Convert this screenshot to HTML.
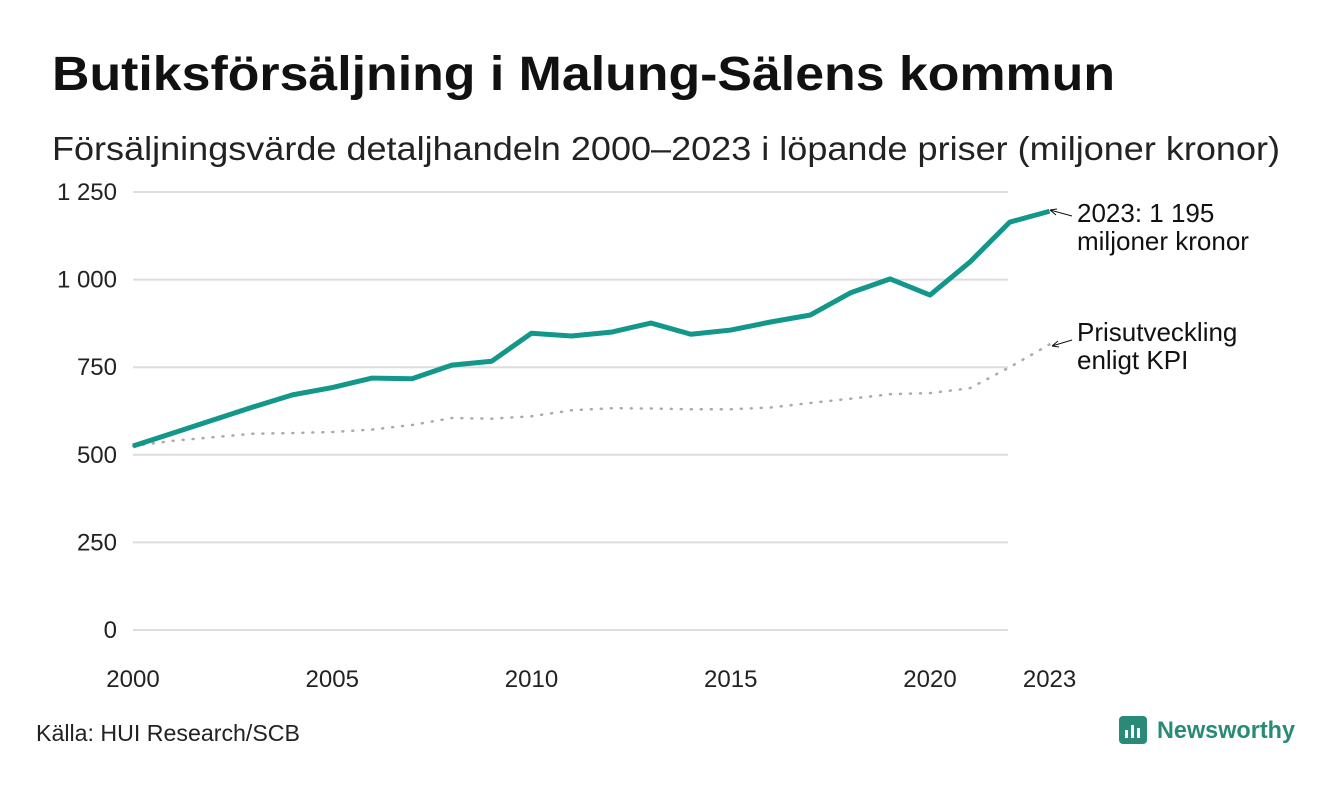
<!DOCTYPE html>
<html><head><meta charset="utf-8">
<style>
body{margin:0;background:#fff;width:1340px;height:780px;overflow:hidden;font-family:"Liberation Sans",sans-serif;}
</style></head>
<body>
<svg width="1340" height="780">
<text x="52" y="90" font-size="48" font-weight="bold" fill="#111" textLength="1063" lengthAdjust="spacingAndGlyphs">Butiksförsäljning i Malung-Sälens kommun</text>
<text x="52" y="160" font-size="33" fill="#222" textLength="1228" lengthAdjust="spacingAndGlyphs">Försäljningsvärde detaljhandeln 2000–2023 i löpande priser (miljoner kronor)</text>
<g id="grid"></g>
<g id="xt"></g>
<g id="marks"></g>
<g>
<text x="1077" y="222" font-size="26" fill="#111">2023: 1 195</text>
<text x="1077" y="250" font-size="26" fill="#111">miljoner kronor</text>
<path d="M1072 216 L1050 210 M1050 210 l6 5 M1050 210 l7 -1" stroke="#111" stroke-width="1" fill="none"/>
</g>
<g>
<text x="1077" y="341" font-size="26" fill="#111">Prisutveckling</text>
<text x="1077" y="369" font-size="26" fill="#111">enligt KPI</text>
<path d="M1072 340 L1052 346 M1052 346 l7 1 M1052 346 l6 -5" stroke="#111" stroke-width="1" fill="none"/>
</g>
<text x="36" y="741" font-size="23" fill="#222" textLength="264" lengthAdjust="spacingAndGlyphs">Källa: HUI Research/SCB</text>
<g>
<rect x="1119" y="716" width="28" height="28" rx="4" fill="#2a8a78"/>
<rect x="1125" y="730" width="3" height="8" fill="#fff"/><rect x="1131" y="725" width="3" height="13" fill="#fff"/><rect x="1137" y="728" width="3" height="10" fill="#fff"/>
<text x="1157" y="738" font-size="24" font-weight="bold" fill="#2a8a78" textLength="138" lengthAdjust="spacingAndGlyphs">Newsworthy</text>
</g>
</svg>
<script>
const years=[2000,2001,2002,2003,2004,2005,2006,2007,2008,2009,2010,2011,2012,2013,2014,2015,2016,2017,2018,2019,2020,2021,2022,2023];
const sales=[525,562,599,636,671,692,719,717,756,767,847,839,850,876,844,856,879,899,962,1002,956,1050,1164,1195];
const kpi=[525,540,550,560,562,565,572,585,605,603,610,627,633,632,630,630,635,648,660,673,676,690,750,815];
const yTicks=[0,250,500,750,1000,1250];
const yLabels=["0","250","500","750","1 000","1 250"];
const xTicks=[2000,2005,2010,2015,2020,2023];
const NS="http://www.w3.org/2000/svg";
const xs=y=>133+(y-2000)*39.85;
const ys=v=>630-v*0.3504;
function mk(t,a,p){const e=document.createElementNS(NS,t);for(const k in a)e.setAttribute(k,a[k]);p.appendChild(e);return e;}
const grid=document.getElementById('grid');
yTicks.forEach((v,i)=>{
 const l=mk('line',{x1:133,x2:1008,y1:ys(v),y2:ys(v),stroke:'#ddd','stroke-width':2},grid);
 
 
 const t=mk('text',{x:117,y:ys(v)+8,'font-size':24,fill:'#222','text-anchor':'end'},grid);
 t.textContent=yLabels[i];
 
 
});
const xt=document.getElementById('xt');
xTicks.forEach(v=>{
 const t=mk('text',{x:xs(v),y:687,'font-size':24,fill:'#222','text-anchor':'middle'},xt);
 t.textContent=v;
 
 
});
const marks=document.getElementById('marks');
const k=mk('polyline',{points:years.map((y,i)=>xs(y)+','+ys(kpi[i])).join(' '),fill:'none',stroke:'#aaa','stroke-width':2.5,'stroke-dasharray':'1 9','stroke-linecap':'round'},marks);


const s=mk('polyline',{points:years.map((y,i)=>xs(y)+','+ys(sales[i])).join(' '),fill:'none',stroke:'#12978a','stroke-width':5,'stroke-linejoin':'round'},marks);


</script>
</body></html>
